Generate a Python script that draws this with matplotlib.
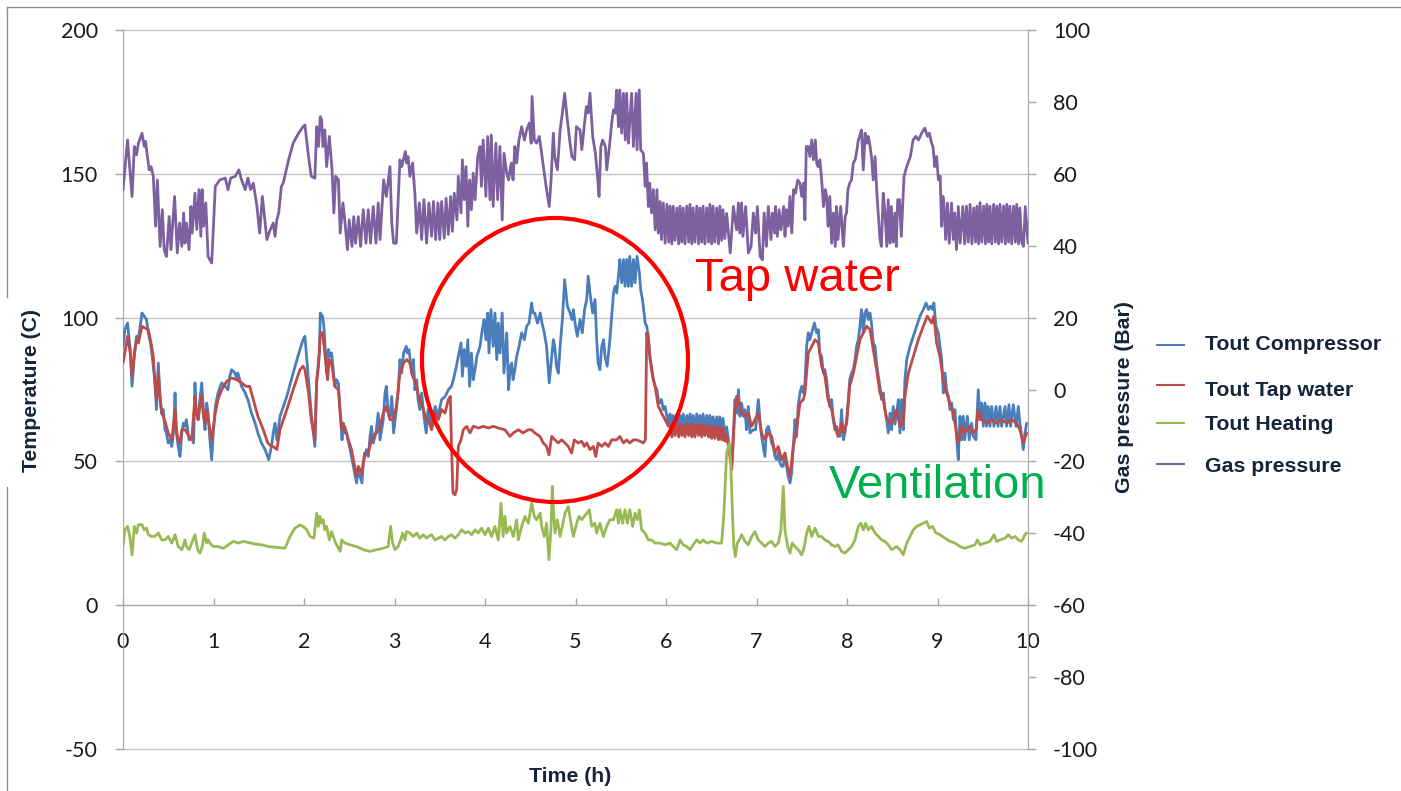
import numpy as np
import matplotlib
matplotlib.use('Agg')
import matplotlib.pyplot as plt
from matplotlib.lines import Line2D
from matplotlib.patches import Ellipse

plt.rcParams['axes.unicode_minus'] = False

# values: (time in h, value)
# left axis: outlet temperatures (C), right axis: gas pressure (bar)

compressor = [
    (0.00, 90.0), (0.02, 95.8), (0.05, 98.1), (0.08, 88.9), (0.10, 76.1), (0.125, 86.5), (0.15, 93.5),
    (0.17, 92.3), (0.21, 101.6), (0.235, 100.5), (0.26, 99.3), (0.28, 94.7), (0.31, 90.0), (0.335, 83.1),
    (0.35, 78.4), (0.37, 68.0), (0.39, 84.2), (0.41, 72.6), (0.427, 66.8), (0.445, 68.0), (0.464, 61.0),
    (0.48, 59.9), (0.50, 56.4), (0.52, 57.5), (0.54, 55.2), (0.56, 61.0), (0.575, 73.8), (0.59, 59.9),
    (0.61, 55.2), (0.63, 51.7), (0.65, 59.9), (0.667, 63.3), (0.685, 62.2), (0.70, 64.5), (0.73, 57.5),
    (0.76, 58.7), (0.78, 56.4), (0.795, 77.3), (0.81, 66.8), (0.83, 64.5), (0.85, 71.5), (0.87, 77.3),
    (0.89, 66.8), (0.906, 61.0), (0.925, 70.3), (0.94, 66.8), (0.96, 57.5), (0.98, 50.6), (1.00, 61.0),
    (1.02, 69.1), (1.035, 71.5), (1.05, 73.8), (1.09, 77.3), (1.13, 76.1), (1.16, 74.9), (1.18, 79.6),
    (1.20, 81.9), (1.24, 80.7), (1.255, 78.4), (1.27, 80.7), (1.31, 76.1), (1.35, 73.8), (1.38, 71.5),
    (1.42, 66.8), (1.46, 63.3), (1.49, 59.9), (1.53, 56.4), (1.57, 54.1), (1.61, 50.6), (1.64, 55.2),
    (1.66, 59.9), (1.68, 63.3), (1.70, 57.5), (1.735, 65.7), (1.81, 72.6), (1.88, 80.7), (1.955, 88.9),
    (1.99, 92.3), (2.01, 93.5), (2.05, 78.4), (2.08, 66.8), (2.12, 55.2), (2.14, 78.4), (2.17, 87.7),
    (2.18, 101.6), (2.205, 100.5), (2.22, 97.0), (2.25, 80.7), (2.27, 88.9), (2.29, 86.5), (2.305, 87.7),
    (2.32, 83.1), (2.34, 76.1), (2.36, 78.4), (2.38, 77.3), (2.40, 66.8), (2.42, 57.5), (2.435, 63.3),
    (2.45, 59.9), (2.47, 59.9), (2.51, 54.1), (2.525, 51.7), (2.545, 48.3), (2.56, 45.9), (2.58, 42.5),
    (2.60, 47.1), (2.62, 44.8), (2.64, 42.5), (2.655, 49.4), (2.69, 54.1), (2.71, 51.7), (2.73, 58.7),
    (2.745, 62.2), (2.765, 56.4), (2.795, 59.9), (2.82, 66.8), (2.84, 57.5), (2.876, 64.5), (2.895, 73.8),
    (2.91, 76.1), (2.93, 66.8), (2.95, 65.7), (2.97, 72.6), (2.99, 59.9), (3.016, 66.8), (3.04, 73.8),
    (3.06, 85.4), (3.08, 80.7), (3.10, 87.7), (3.13, 90.0), (3.14, 87.7), (3.16, 88.9), (3.19, 80.7),
    (3.21, 85.4), (3.225, 74.9), (3.245, 78.4), (3.26, 71.5), (3.28, 68.0), (3.30, 73.8), (3.325, 65.7),
    (3.35, 59.9), (3.37, 68.0), (3.41, 63.3), (3.45, 69.1), (3.48, 65.7), (3.52, 71.5), (3.56, 72.6),
    (3.595, 74.9), (3.63, 76.1), (3.65, 78.4), (3.676, 81.9), (3.705, 86.5), (3.735, 91.2), (3.75, 79.6),
    (3.77, 88.9), (3.79, 83.1), (3.81, 92.3), (3.83, 76.1), (3.85, 87.7), (3.87, 78.4), (3.89, 81.9),
    (3.91, 86.5), (3.945, 90.0), (3.97, 95.8), (3.99, 99.3), (4.01, 92.3), (4.03, 101.6), (4.044, 87.7),
    (4.066, 102.8), (4.09, 90.0), (4.11, 101.6), (4.13, 85.4), (4.147, 98.1), (4.165, 87.7), (4.19, 101.6),
    (4.21, 80.7), (4.24, 94.7), (4.26, 74.9), (4.28, 83.1), (4.295, 84.2), (4.31, 78.4), (4.33, 81.9),
    (4.35, 86.5), (4.376, 90.0), (4.405, 94.7), (4.435, 92.3), (4.46, 97.0), (4.486, 98.1), (4.515, 105.1),
    (4.53, 101.6), (4.55, 101.6), (4.58, 98.1), (4.61, 101.6), (4.63, 98.1), (4.655, 94.7), (4.68, 90.0),
    (4.71, 77.3), (4.73, 84.2), (4.755, 92.3), (4.77, 90.0), (4.79, 83.1), (4.81, 80.7), (4.83, 90.0),
    (4.855, 99.3), (4.88, 113.2), (4.91, 104.0), (4.94, 101.6), (4.96, 99.3), (4.976, 102.8), (5.00, 97.0),
    (5.02, 93.5), (5.05, 99.3), (5.075, 94.7), (5.10, 102.8), (5.124, 106.3), (5.14, 114.4), (5.16, 108.6),
    (5.19, 101.6), (5.216, 106.3), (5.234, 92.3), (5.25, 84.2), (5.27, 81.9), (5.29, 90.0), (5.31, 92.3),
    (5.326, 86.5), (5.35, 83.1), (5.38, 92.3), (5.42, 108.6), (5.437, 110.9), (5.455, 108.6), (5.474, 114.4),
    (5.49, 120.2), (5.51, 112.1), (5.53, 120.2), (5.547, 110.9), (5.566, 120.2), (5.584, 110.9), (5.60, 121.3),
    (5.62, 110.9), (5.64, 120.2), (5.658, 112.1), (5.68, 121.3), (5.706, 115.5), (5.72, 109.7), (5.74, 106.3),
    (5.77, 98.1), (5.787, 97.0), (5.805, 93.5), (5.823, 85.4), (5.84, 83.1), (5.86, 78.4), (5.88, 76.1),
    (5.90, 74.9), (5.915, 71.5), (5.934, 70.3), (5.95, 71.5), (5.97, 68.0), (5.99, 69.1), (6.01, 65.7),
    (6.026, 63.3), (6.045, 66.5), (6.065, 60.5), (6.08, 66.0), (6.10, 61.0), (6.12, 66.5), (6.14, 60.5),
    (6.155, 66.0), (6.175, 61.0), (6.19, 66.5), (6.21, 60.5), (6.23, 66.0), (6.25, 61.0), (6.265, 66.5),
    (6.285, 60.5), (6.30, 66.0), (6.32, 60.5), (6.34, 66.5), (6.36, 61.0), (6.375, 66.0), (6.395, 60.5),
    (6.41, 66.5), (6.43, 61.0), (6.45, 66.0), (6.47, 60.5), (6.485, 66.0), (6.505, 60.0), (6.52, 65.5),
    (6.54, 60.0), (6.56, 65.5), (6.58, 59.5), (6.595, 65.5), (6.615, 59.5), (6.63, 65.0), (6.65, 59.0),
    (6.67, 62.0), (6.70, 55.0), (6.726, 48.3), (6.744, 59.9), (6.762, 71.5), (6.785, 66.8), (6.80, 74.9),
    (6.817, 65.7), (6.836, 70.3), (6.854, 65.7), (6.872, 68.0), (6.89, 61.0), (6.91, 69.1), (6.928, 59.9),
    (6.965, 61.0), (6.99, 61.0), (7.02, 71.5), (7.038, 64.5), (7.056, 58.7), (7.075, 55.2), (7.093, 51.7),
    (7.11, 61.0), (7.13, 62.2), (7.149, 59.9), (7.167, 56.4), (7.186, 55.2), (7.204, 51.7), (7.22, 50.6),
    (7.24, 52.9), (7.26, 49.4), (7.278, 48.3), (7.296, 48.3), (7.314, 52.9), (7.333, 48.3), (7.35, 44.8),
    (7.37, 42.5), (7.388, 45.9), (7.406, 55.2), (7.425, 64.5), (7.443, 58.7), (7.46, 69.1), (7.48, 73.8),
    (7.50, 76.1), (7.517, 73.8), (7.535, 77.3), (7.554, 90.0), (7.572, 94.7), (7.59, 92.3), (7.61, 94.7),
    (7.64, 98.1), (7.664, 94.7), (7.683, 95.8), (7.70, 87.7), (7.72, 86.5), (7.738, 80.7), (7.756, 81.9),
    (7.775, 78.4), (7.79, 73.8), (7.81, 69.1), (7.83, 71.5), (7.848, 64.5), (7.867, 61.0), (7.885, 62.2),
    (7.90, 59.9), (7.922, 58.7), (7.94, 68.0), (7.96, 57.5), (7.977, 59.9), (7.996, 64.5), (8.014, 71.5),
    (8.03, 78.4), (8.05, 80.7), (8.07, 81.9), (8.088, 85.4), (8.106, 90.0), (8.125, 92.3), (8.143, 97.0),
    (8.16, 102.8), (8.18, 94.7), (8.198, 101.6), (8.217, 102.8), (8.235, 99.3), (8.254, 101.6), (8.27, 98.1),
    (8.29, 91.2), (8.31, 90.0), (8.327, 84.2), (8.346, 79.6), (8.364, 76.1), (8.382, 71.5), (8.40, 73.8),
    (8.42, 68.0), (8.438, 64.5), (8.456, 59.9), (8.475, 66.8), (8.493, 61.0), (8.51, 69.1), (8.53, 63.0),
    (8.55, 66.8), (8.567, 71.5), (8.585, 59.9), (8.604, 71.5), (8.622, 61.0), (8.64, 78.4), (8.66, 85.4),
    (8.696, 90.0), (8.733, 93.5), (8.77, 97.0), (8.806, 100.5), (8.843, 102.8), (8.873, 105.1), (8.90, 102.8),
    (8.924, 104.0), (8.946, 102.8), (8.96, 105.1), (8.983, 97.0), (9.009, 94.7), (9.027, 90.0), (9.046, 85.4),
    (9.064, 73.8), (9.083, 80.7), (9.10, 74.9), (9.12, 72.6), (9.138, 68.0), (9.156, 70.3), (9.175, 64.5),
    (9.193, 68.0), (9.21, 58.7), (9.23, 50.6), (9.248, 65.7), (9.267, 57.5), (9.285, 65.7), (9.30, 57.5),
    (9.33, 65.7), (9.35, 57.5), (9.377, 63.3), (9.396, 58.7), (9.425, 57.5), (9.45, 74.9), (9.47, 64.5),
    (9.488, 70.3), (9.506, 62.2), (9.525, 70.3), (9.543, 62.2), (9.56, 69.1), (9.58, 62.2), (9.598, 69.1),
    (9.624, 62.2), (9.646, 69.1), (9.67, 62.2), (9.69, 69.1), (9.709, 62.2), (9.746, 69.1), (9.764, 62.2),
    (9.79, 69.7), (9.808, 62.2), (9.838, 69.7), (9.867, 62.2), (9.893, 69.1), (9.91, 63.3), (9.93, 58.7),
    (9.948, 54.1), (9.967, 59.9), (9.985, 63.3),
]

tap_water = [
    (0.00, 84.2), (0.02, 87.7), (0.05, 93.5), (0.08, 87.7), (0.10, 79.6), (0.125, 87.7), (0.15, 92.3),
    (0.17, 91.2), (0.21, 97.0), (0.24, 96.4), (0.28, 95.8), (0.31, 91.2), (0.335, 86.5), (0.35, 78.4),
    (0.37, 71.5), (0.39, 80.7), (0.41, 71.5), (0.427, 66.8), (0.445, 65.7), (0.48, 62.2), (0.50, 59.9),
    (0.52, 58.7), (0.54, 57.5), (0.575, 68.0), (0.59, 61.0), (0.61, 57.5), (0.63, 56.4), (0.65, 61.0),
    (0.685, 61.0), (0.73, 58.7), (0.76, 57.5), (0.795, 72.6), (0.81, 66.8), (0.83, 64.5), (0.85, 69.1),
    (0.87, 72.6), (0.89, 65.7), (0.906, 63.3), (0.925, 68.0), (0.96, 61.0), (0.98, 57.5), (1.02, 66.8),
    (1.05, 71.5), (1.09, 74.9), (1.145, 77.8), (1.20, 79.0), (1.255, 78.4), (1.31, 77.3), (1.36, 76.1),
    (1.40, 76.1), (1.44, 71.5), (1.49, 65.7), (1.55, 61.0), (1.60, 56.4), (1.64, 55.2), (1.66, 55.2),
    (1.70, 54.1), (1.735, 61.0), (1.81, 68.0), (1.88, 74.9), (1.955, 81.9), (1.99, 83.1), (2.01, 81.9),
    (2.05, 73.8), (2.08, 64.5), (2.12, 57.5), (2.14, 77.3), (2.16, 83.1), (2.18, 94.7), (2.205, 94.7),
    (2.23, 87.7), (2.26, 78.4), (2.28, 85.4), (2.305, 84.2), (2.34, 76.1), (2.38, 74.9), (2.40, 66.8),
    (2.42, 61.0), (2.45, 62.2), (2.49, 57.5), (2.525, 54.1), (2.56, 48.3), (2.58, 44.8), (2.60, 48.3),
    (2.64, 45.9), (2.67, 52.9), (2.71, 52.9), (2.745, 57.5), (2.795, 59.9), (2.83, 61.0), (2.876, 66.8),
    (2.91, 69.1), (2.95, 64.5), (2.99, 64.5), (3.02, 69.1), (3.06, 80.7), (3.10, 84.2), (3.134, 85.4),
    (3.17, 84.2), (3.20, 79.6), (3.237, 77.3), (3.274, 71.5), (3.31, 69.1), (3.35, 64.5), (3.374, 64.5),
    (3.41, 61.0), (3.447, 66.8), (3.484, 64.5), (3.52, 68.0), (3.558, 66.8), (3.595, 71.5), (3.617, 72.6),
    (3.63, 55.2), (3.646, 39.0), (3.668, 38.4), (3.687, 40.2), (3.705, 55.2), (3.735, 57.5), (3.76, 61.0),
    (3.797, 62.2), (3.834, 59.9), (3.87, 62.2), (3.93, 61.6), (3.981, 62.2), (4.037, 61.6), (4.092, 62.2),
    (4.147, 61.6), (4.22, 61.0), (4.276, 58.7), (4.313, 59.9), (4.368, 61.0), (4.42, 59.9), (4.479, 61.0),
    (4.515, 61.0), (4.55, 59.9), (4.607, 58.7), (4.644, 56.4), (4.68, 55.2), (4.707, 52.3), (4.737, 58.7),
    (4.773, 57.5), (4.81, 56.4), (4.847, 57.5), (4.884, 56.4), (4.92, 55.2), (4.957, 52.9), (4.987, 57.5),
    (5.03, 56.4), (5.068, 57.0), (5.098, 55.2), (5.124, 56.4), (5.16, 54.1), (5.197, 55.2), (5.223, 51.7),
    (5.25, 56.4), (5.29, 55.2), (5.326, 56.4), (5.363, 55.2), (5.40, 57.5), (5.455, 57.5), (5.49, 58.7),
    (5.53, 56.4), (5.566, 57.5), (5.60, 56.4), (5.64, 57.5), (5.676, 57.5), (5.713, 57.0), (5.75, 56.4),
    (5.772, 57.5), (5.787, 94.7), (5.805, 92.3), (5.823, 86.5), (5.84, 81.9), (5.86, 78.4), (5.88, 76.1),
    (5.897, 72.6), (5.915, 69.1), (5.934, 68.0), (5.95, 66.8), (5.97, 65.7), (6.01, 63.3), (6.026, 62.2),
    (6.045, 62.5), (6.065, 58.5), (6.08, 63.0), (6.10, 59.0), (6.12, 62.5), (6.14, 58.5), (6.155, 63.0),
    (6.175, 59.0), (6.19, 62.5), (6.21, 58.5), (6.23, 63.0), (6.25, 59.0), (6.265, 62.5), (6.285, 58.5),
    (6.30, 63.0), (6.32, 58.5), (6.34, 62.5), (6.36, 59.0), (6.375, 63.0), (6.395, 58.5), (6.41, 62.5),
    (6.43, 59.0), (6.45, 62.5), (6.47, 58.5), (6.485, 62.5), (6.505, 58.0), (6.52, 62.0), (6.54, 58.0),
    (6.56, 62.0), (6.58, 57.5), (6.595, 62.0), (6.615, 57.5), (6.63, 61.5), (6.65, 57.0), (6.67, 59.0),
    (6.70, 53.0), (6.726, 47.1), (6.744, 57.5), (6.76, 67.0), (6.78, 72.6), (6.80, 71.5), (6.836, 66.8),
    (6.872, 65.7), (6.91, 66.8), (6.946, 62.2), (6.983, 64.5), (7.02, 66.8), (7.056, 59.9), (7.093, 57.5),
    (7.13, 59.9), (7.167, 58.7), (7.204, 52.9), (7.24, 55.2), (7.278, 50.6), (7.314, 52.9), (7.35, 47.1),
    (7.37, 44.8), (7.406, 55.2), (7.443, 61.0), (7.48, 70.3), (7.517, 71.5), (7.535, 73.8), (7.572, 87.7),
    (7.61, 90.0), (7.646, 92.3), (7.683, 91.2), (7.72, 83.1), (7.756, 79.6), (7.79, 71.5), (7.83, 68.0),
    (7.867, 62.2), (7.90, 58.7), (7.94, 63.3), (7.96, 59.9), (7.996, 63.3), (8.03, 76.1), (8.07, 80.7),
    (8.106, 86.5), (8.143, 92.3), (8.18, 94.7), (8.217, 97.0), (8.254, 95.8), (8.29, 88.9), (8.327, 81.9),
    (8.364, 73.8), (8.40, 71.5), (8.438, 64.5), (8.475, 63.3), (8.51, 64.5), (8.55, 68.0), (8.585, 62.2),
    (8.622, 63.3), (8.64, 72.6), (8.678, 80.7), (8.733, 86.5), (8.788, 92.3), (8.843, 97.0), (8.887, 100.5),
    (8.935, 98.1), (8.96, 100.5), (8.99, 91.2), (9.027, 86.5), (9.064, 78.4), (9.10, 73.8), (9.138, 70.3),
    (9.175, 66.8), (9.21, 59.9), (9.23, 56.4), (9.267, 62.2), (9.30, 59.9), (9.35, 62.2), (9.396, 59.9),
    (9.425, 61.0), (9.45, 68.0), (9.488, 64.5), (9.543, 63.3), (9.598, 64.5), (9.653, 63.3), (9.709, 64.5),
    (9.764, 63.3), (9.82, 64.5), (9.874, 63.3), (9.91, 61.0), (9.948, 56.4), (9.985, 59.9),
]

heating = [
    (0.00, 20.4), (0.02, 26.2), (0.05, 27.4), (0.075, 23.9), (0.10, 17.5), (0.125, 27.4), (0.15, 25.1),
    (0.17, 28.0), (0.21, 28.0), (0.235, 26.2), (0.26, 26.8), (0.28, 24.5), (0.315, 23.9), (0.35, 23.9),
    (0.39, 25.1), (0.427, 22.7), (0.464, 22.7), (0.50, 23.9), (0.54, 21.6), (0.575, 24.5), (0.61, 20.4),
    (0.65, 19.3), (0.685, 22.7), (0.70, 20.4), (0.73, 19.3), (0.76, 21.6), (0.795, 24.5), (0.825, 19.3),
    (0.85, 18.1), (0.876, 20.4), (0.898, 25.1), (0.924, 21.6), (0.94, 22.7), (0.96, 21.6), (0.998, 20.4),
    (1.05, 20.4), (1.108, 19.8), (1.164, 21.0), (1.22, 22.2), (1.275, 21.6), (1.33, 22.2), (1.384, 21.8),
    (1.458, 21.3), (1.53, 21.0), (1.606, 20.4), (1.672, 20.2), (1.79, 19.8), (1.845, 23.9), (1.90, 26.8),
    (1.955, 27.9), (1.99, 27.4), (2.03, 26.2), (2.066, 23.9), (2.11, 23.3), (2.14, 32.0), (2.158, 27.4),
    (2.176, 30.9), (2.195, 28.5), (2.213, 29.7), (2.23, 26.2), (2.25, 27.4), (2.28, 22.7), (2.305, 25.6),
    (2.342, 22.2), (2.36, 21.0), (2.40, 18.7), (2.416, 22.7), (2.453, 21.6), (2.508, 21.0), (2.58, 20.4),
    (2.655, 19.3), (2.73, 18.7), (2.80, 19.3), (2.876, 19.8), (2.93, 20.4), (2.957, 27.4), (2.98, 21.6),
    (3.005, 19.3), (3.04, 20.4), (3.068, 22.7), (3.09, 25.1), (3.116, 22.7), (3.134, 25.6), (3.17, 25.1),
    (3.208, 23.9), (3.245, 25.1), (3.28, 23.3), (3.318, 24.5), (3.355, 23.3), (3.374, 23.9), (3.41, 24.5),
    (3.447, 22.7), (3.484, 23.3), (3.52, 23.9), (3.558, 22.7), (3.595, 23.9), (3.63, 24.5), (3.668, 23.3),
    (3.705, 24.5), (3.742, 26.2), (3.78, 25.1), (3.816, 25.6), (3.853, 24.5), (3.89, 26.2), (3.926, 25.1),
    (3.963, 26.8), (4.00, 24.5), (4.037, 26.8), (4.074, 23.9), (4.11, 27.4), (4.147, 22.7), (4.177, 35.5),
    (4.20, 23.9), (4.22, 30.9), (4.24, 25.1), (4.276, 27.4), (4.313, 23.9), (4.35, 29.7), (4.368, 22.7),
    (4.405, 27.4), (4.442, 30.9), (4.479, 28.5), (4.515, 35.5), (4.545, 30.9), (4.57, 29.7), (4.608, 32.0),
    (4.626, 27.4), (4.655, 23.9), (4.68, 28.5), (4.707, 15.8), (4.73, 27.4), (4.744, 41.3), (4.759, 32.0),
    (4.773, 25.1), (4.80, 29.7), (4.83, 23.9), (4.854, 27.4), (4.884, 32.0), (4.92, 34.3), (4.95, 28.5),
    (4.976, 23.9), (5.013, 28.5), (5.038, 30.9), (5.068, 29.7), (5.097, 30.9), (5.124, 32.0), (5.153, 33.2),
    (5.18, 27.4), (5.216, 28.5), (5.234, 25.1), (5.27, 28.5), (5.308, 23.9), (5.345, 27.4), (5.38, 29.7),
    (5.418, 29.7), (5.455, 33.2), (5.474, 28.5), (5.49, 33.2), (5.52, 28.5), (5.547, 33.2), (5.573, 28.5),
    (5.60, 33.2), (5.632, 27.4), (5.658, 32.0), (5.683, 29.7), (5.706, 33.2), (5.73, 26.2), (5.768, 25.1),
    (5.805, 22.7), (5.84, 22.7), (5.88, 21.6), (5.934, 21.6), (5.99, 21.0), (6.044, 21.6), (6.08, 20.4),
    (6.118, 19.3), (6.155, 22.7), (6.19, 21.0), (6.228, 20.4), (6.265, 19.3), (6.30, 21.0), (6.34, 22.7),
    (6.376, 21.6), (6.413, 22.7), (6.45, 21.6), (6.505, 22.2), (6.56, 21.6), (6.615, 21.6), (6.64, 32.0),
    (6.67, 52.9), (6.70, 56.4), (6.715, 49.4), (6.737, 29.7), (6.75, 20.4), (6.766, 16.9), (6.788, 21.6),
    (6.81, 22.7), (6.836, 24.5), (6.872, 22.2), (6.91, 21.0), (6.946, 23.9), (6.983, 25.6), (7.02, 22.7),
    (7.056, 21.6), (7.093, 20.4), (7.13, 21.6), (7.167, 22.2), (7.204, 20.4), (7.24, 21.6), (7.27, 26.2),
    (7.296, 41.3), (7.314, 26.2), (7.344, 20.4), (7.37, 18.1), (7.395, 21.6), (7.425, 20.4), (7.46, 19.3),
    (7.50, 17.5), (7.528, 20.4), (7.554, 25.1), (7.58, 27.4), (7.61, 23.9), (7.646, 26.8), (7.683, 23.9),
    (7.72, 23.9), (7.756, 22.7), (7.79, 22.2), (7.83, 21.0), (7.867, 20.4), (7.90, 21.0), (7.94, 18.7),
    (7.977, 18.1), (8.014, 19.3), (8.05, 20.4), (8.088, 22.7), (8.125, 27.4), (8.154, 28.5), (8.18, 26.2),
    (8.206, 28.5), (8.235, 26.2), (8.27, 27.4), (8.31, 25.1), (8.346, 23.9), (8.382, 22.7), (8.42, 22.2),
    (8.456, 21.0), (8.493, 19.3), (8.55, 20.4), (8.585, 19.3), (8.622, 17.5), (8.66, 21.6), (8.696, 23.9),
    (8.733, 26.2), (8.77, 27.4), (8.806, 27.9), (8.843, 28.5), (8.88, 29.1), (8.91, 26.8), (8.946, 27.4),
    (8.983, 25.1), (9.027, 24.5), (9.083, 23.3), (9.138, 22.2), (9.193, 21.6), (9.248, 20.4), (9.30, 19.8),
    (9.359, 20.4), (9.414, 21.0), (9.44, 22.7), (9.47, 21.0), (9.525, 21.6), (9.58, 22.2), (9.624, 24.5),
    (9.653, 22.2), (9.69, 22.7), (9.746, 23.3), (9.782, 24.5), (9.82, 23.3), (9.856, 23.9), (9.893, 22.7),
    (9.93, 22.2), (9.967, 24.5), (9.985, 25.1),
]

gas_pressure = [
    (0.00, 55.5), (0.05, 69.4), (0.10, 53.7), (0.125, 67.6), (0.15, 65.3), (0.17, 68.5), (0.21, 71.3),
    (0.235, 67.6), (0.25, 69.0), (0.265, 65.7), (0.29, 61.1), (0.31, 62.0), (0.335, 59.3), (0.36, 45.4),
    (0.38, 58.3), (0.41, 39.8), (0.435, 50.0), (0.455, 38.9), (0.48, 37.0), (0.51, 48.1), (0.53, 38.9),
    (0.57, 53.7), (0.60, 38.0), (0.625, 46.3), (0.65, 39.8), (0.67, 49.1), (0.685, 40.7), (0.70, 46.3),
    (0.73, 38.9), (0.75, 50.9), (0.765, 43.5), (0.795, 54.6), (0.815, 44.5), (0.84, 55.6), (0.86, 42.6),
    (0.875, 55.6), (0.89, 45.4), (0.915, 51.9), (0.94, 37.0), (0.98, 35.2), (1.02, 56.5), (1.07, 58.3),
    (1.13, 58.8), (1.16, 55.6), (1.19, 58.8), (1.24, 59.3), (1.28, 61.1), (1.31, 58.3), (1.35, 55.6),
    (1.38, 58.8), (1.41, 55.6), (1.44, 57.4), (1.48, 50.9), (1.51, 43.5), (1.54, 53.7), (1.59, 41.7),
    (1.62, 44.0), (1.66, 46.3), (1.68, 42.6), (1.70, 47.2), (1.72, 49.1), (1.75, 56.5), (1.77, 57.4),
    (1.83, 63.9), (1.88, 68.5), (1.94, 71.3), (1.99, 73.1), (2.01, 73.6), (2.05, 64.8), (2.08, 59.3),
    (2.12, 58.8), (2.14, 73.1), (2.16, 67.6), (2.18, 75.9), (2.195, 75.0), (2.21, 67.6), (2.23, 72.2),
    (2.25, 62.0), (2.28, 70.4), (2.31, 61.1), (2.33, 49.1), (2.35, 59.3), (2.38, 58.3), (2.40, 43.5),
    (2.43, 51.9), (2.45, 47.2), (2.48, 38.9), (2.50, 47.2), (2.53, 39.8), (2.55, 48.1), (2.57, 40.7),
    (2.60, 48.1), (2.625, 39.8), (2.655, 50.0), (2.685, 40.7), (2.71, 50.0), (2.735, 40.7), (2.765, 50.9),
    (2.795, 40.7), (2.82, 51.9), (2.84, 41.7), (2.88, 58.3), (2.91, 53.7), (2.95, 62.0), (2.97, 46.3),
    (2.99, 40.7), (3.02, 40.7), (3.06, 63.9), (3.08, 62.0), (3.12, 66.2), (3.135, 63.0), (3.15, 64.8),
    (3.17, 59.3), (3.20, 63.0), (3.225, 54.6), (3.245, 43.5), (3.275, 51.9), (3.30, 41.7), (3.325, 52.8),
    (3.355, 40.7), (3.38, 51.9), (3.41, 42.6), (3.43, 52.3), (3.455, 41.7), (3.48, 51.9), (3.50, 41.7),
    (3.52, 52.3), (3.55, 42.1), (3.57, 53.2), (3.595, 43.1), (3.62, 53.7), (3.64, 44.0), (3.66, 54.6),
    (3.69, 47.2), (3.705, 59.3), (3.735, 49.1), (3.75, 63.9), (3.77, 52.8), (3.79, 62.0), (3.81, 45.4),
    (3.83, 58.3), (3.85, 50.0), (3.87, 60.2), (3.89, 52.8), (3.92, 64.8), (3.945, 67.6), (3.96, 56.5),
    (3.98, 69.4), (4.01, 53.7), (4.03, 70.4), (4.055, 52.8), (4.07, 70.8), (4.09, 50.9), (4.12, 68.5),
    (4.14, 52.8), (4.165, 67.6), (4.19, 47.2), (4.21, 65.7), (4.24, 60.2), (4.26, 58.3), (4.29, 63.0),
    (4.31, 58.3), (4.33, 67.6), (4.35, 63.0), (4.375, 69.4), (4.405, 73.1), (4.435, 69.4), (4.46, 72.2),
    (4.49, 74.1), (4.51, 68.5), (4.52, 81.5), (4.545, 69.4), (4.57, 68.5), (4.60, 70.4), (4.625, 65.7),
    (4.655, 60.2), (4.68, 55.6), (4.71, 50.9), (4.73, 58.3), (4.755, 71.3), (4.77, 64.8), (4.80, 61.1),
    (4.83, 72.2), (4.855, 76.9), (4.88, 82.4), (4.91, 75.0), (4.94, 68.5), (4.96, 64.8), (4.99, 63.9),
    (5.01, 73.1), (5.05, 72.2), (5.07, 66.7), (5.10, 74.1), (5.12, 78.7), (5.14, 76.9), (5.16, 82.4),
    (5.19, 70.4), (5.22, 65.7), (5.24, 60.2), (5.26, 53.7), (5.28, 67.6), (5.30, 69.4), (5.33, 67.6),
    (5.345, 61.1), (5.375, 67.6), (5.40, 74.1), (5.42, 77.8), (5.44, 76.9), (5.455, 83.3), (5.475, 73.1),
    (5.49, 83.3), (5.51, 71.3), (5.53, 82.4), (5.55, 69.4), (5.565, 82.4), (5.585, 68.5), (5.62, 82.4),
    (5.64, 67.6), (5.67, 82.4), (5.68, 66.7), (5.705, 83.3), (5.72, 66.7), (5.75, 65.7), (5.77, 56.5),
    (5.785, 63.0), (5.805, 50.9), (5.82, 57.4), (5.84, 49.1), (5.86, 55.6), (5.88, 44.4), (5.90, 55.6),
    (5.915, 43.5), (5.935, 52.3), (5.95, 41.7), (5.97, 51.9), (5.99, 40.7), (6.01, 51.5), (6.03, 41.0),
    (6.045, 51.0), (6.065, 40.5), (6.08, 51.0), (6.10, 41.5), (6.12, 50.5), (6.14, 40.5), (6.155, 51.0),
    (6.175, 41.0), (6.19, 50.5), (6.21, 40.5), (6.23, 51.0), (6.25, 41.0), (6.265, 51.5), (6.285, 40.5),
    (6.30, 50.5), (6.32, 41.0), (6.34, 51.0), (6.36, 40.5), (6.375, 50.5), (6.395, 41.0), (6.41, 51.0),
    (6.43, 40.5), (6.45, 50.5), (6.47, 41.0), (6.485, 51.5), (6.505, 40.5), (6.52, 51.0), (6.54, 41.0),
    (6.56, 50.5), (6.58, 40.5), (6.595, 51.0), (6.615, 41.5), (6.63, 50.0), (6.65, 42.0), (6.67, 49.0),
    (6.71, 38.0), (6.745, 50.9), (6.78, 44.4), (6.80, 51.9), (6.815, 43.5), (6.835, 51.9), (6.85, 42.6),
    (6.88, 50.9), (6.91, 38.0), (6.94, 39.8), (6.965, 49.1), (6.99, 43.5), (7.01, 50.9), (7.04, 37.0),
    (7.065, 36.1), (7.085, 49.1), (7.11, 39.8), (7.13, 50.9), (7.16, 41.7), (7.175, 49.1), (7.20, 43.5),
    (7.21, 50.9), (7.23, 42.6), (7.25, 50.0), (7.27, 44.4), (7.30, 50.9), (7.315, 42.6), (7.33, 50.0),
    (7.35, 45.4), (7.37, 53.7), (7.39, 43.5), (7.41, 55.6), (7.43, 54.6), (7.455, 58.3), (7.48, 57.4),
    (7.50, 53.7), (7.52, 57.4), (7.535, 47.2), (7.55, 67.6), (7.57, 67.6), (7.59, 64.8), (7.61, 69.4),
    (7.63, 63.9), (7.65, 69.4), (7.665, 63.0), (7.68, 62.0), (7.70, 63.9), (7.72, 58.3), (7.74, 50.9),
    (7.76, 55.6), (7.775, 53.7), (7.79, 45.4), (7.81, 53.7), (7.83, 40.7), (7.85, 49.1), (7.87, 39.8),
    (7.885, 50.9), (7.90, 41.7), (7.93, 50.9), (7.96, 39.8), (7.98, 48.1), (7.995, 49.1), (8.01, 55.6),
    (8.03, 57.4), (8.05, 58.3), (8.07, 63.0), (8.09, 63.9), (8.11, 66.7), (8.125, 69.4), (8.14, 70.4),
    (8.16, 72.2), (8.18, 61.1), (8.20, 71.3), (8.22, 68.5), (8.235, 70.4), (8.25, 68.5), (8.27, 64.8),
    (8.29, 58.3), (8.31, 64.8), (8.33, 54.6), (8.345, 49.1), (8.365, 41.7), (8.38, 39.8), (8.40, 54.6),
    (8.42, 49.1), (8.44, 39.8), (8.455, 52.8), (8.475, 40.7), (8.49, 50.9), (8.51, 41.0), (8.53, 49.1),
    (8.545, 39.8), (8.56, 52.8), (8.58, 52.8), (8.60, 42.6), (8.63, 59.3), (8.66, 62.0), (8.70, 64.8),
    (8.73, 69.4), (8.76, 70.4), (8.79, 69.4), (8.825, 71.3), (8.86, 72.7), (8.89, 70.4), (8.91, 71.3),
    (8.935, 68.5), (8.95, 67.6), (8.97, 62.0), (8.99, 64.8), (9.01, 58.3), (9.03, 59.3), (9.045, 45.4),
    (9.06, 53.7), (9.07, 51.9), (9.09, 41.7), (9.11, 51.9), (9.13, 40.7), (9.155, 51.9), (9.175, 41.7),
    (9.19, 49.1), (9.21, 38.9), (9.23, 50.9), (9.25, 40.7), (9.28, 50.9), (9.30, 40.5), (9.32, 51.0),
    (9.34, 41.0), (9.36, 51.5), (9.38, 40.5), (9.40, 50.5), (9.42, 41.0), (9.435, 51.0), (9.455, 40.5),
    (9.47, 52.0), (9.49, 41.0), (9.51, 51.0), (9.53, 40.5), (9.545, 51.5), (9.565, 41.0), (9.58, 51.0),
    (9.60, 40.5), (9.62, 51.5), (9.64, 41.0), (9.655, 51.0), (9.675, 40.5), (9.69, 51.5), (9.71, 41.0),
    (9.73, 51.0), (9.75, 40.5), (9.765, 51.5), (9.785, 41.0), (9.80, 51.0), (9.82, 40.5), (9.84, 51.0),
    (9.86, 41.0), (9.875, 51.5), (9.895, 40.5), (9.91, 50.5), (9.93, 41.0), (9.95, 39.8), (9.97, 50.9),
    (10.0, 40.7),
]

series_names = ['Tout Compressor', 'Tout Tap water', 'Tout Heating', 'Gas pressure']
series_colors = ['#4A7EBB', '#BE4B48', '#98B954', '#7D60A0']

temp_ticks = [-50, 0, 50, 100, 150, 200]
pressure_ticks = [-100, -80, -60, -40, -20, 0, 20, 40, 60, 80, 100]
time_ticks = list(range(0, 11))

W, H = 1401, 791
grey = '#A6A6A6'
navy = '#15243A'
tick_font = dict(family='Lato', size=15.5, color='#1A1A1A')


def fx(px):
    return px / W


def fy(py):
    return 1 - py / H


fig = plt.figure(figsize=(W / 100, H / 100), dpi=100)
ax = fig.add_axes([fx(123), fy(749), fx(1028) - fx(123), fy(30) - fy(749)])
ax2 = ax.twinx()

# temperatures on the primary axis
for data, col in zip([compressor, tap_water, heating], series_colors[:3]):
    t, v = np.array(data).T
    ax.plot(t, v, color=col, lw=2.0, solid_joinstyle='round', solid_capstyle='round', zorder=3)

# gas pressure on the secondary axis
t, p = np.array(gas_pressure).T
ax2.plot(t, p, color=series_colors[3], lw=2.0, solid_joinstyle='round', solid_capstyle='round', zorder=3)

ax.set_xlim(0, 10)
ax.set_ylim(-50, 200)
ax2.set_ylim(-100, 100)
ax.set_xticks(time_ticks)
ax.set_yticks(temp_ticks)
ax2.set_yticks(pressure_ticks)
ax.set_axisbelow(True)
# horizontal gridlines, including the ones on the top and bottom edges
for v in temp_ticks:
    ax.axhline(v, color='#C6C6C6', lw=1, clip_on=False, zorder=0.5)

for s in ['top', 'right']:
    ax.spines[s].set_visible(False)
for s in ['top', 'left', 'bottom']:
    ax2.spines[s].set_visible(False)
ax.spines['bottom'].set_position(('data', 0))
ax.spines['bottom'].set_color(grey)
ax.spines['left'].set_color(grey)
ax2.spines['right'].set_color(grey)

ax.tick_params(axis='y', direction='out', length=6, width=1, color=grey, pad=12)
ax.tick_params(axis='x', direction='in', length=5, width=1, color=grey, pad=19)
ax2.tick_params(axis='y', direction='out', length=6, width=1, color=grey, pad=12)
for lab in ax.get_xticklabels() + ax.get_yticklabels() + ax2.get_yticklabels():
    lab.set_fontfamily(tick_font['family'])
    lab.set_fontsize(tick_font['size'])
    lab.set_color(tick_font['color'])

# axis titles
title_font = dict(family='Liberation Sans', weight='bold', size=15.3, color=navy)
fig.text(fx(32), fy(390), 'Temperature (C)', rotation=90, ha='center', va='center', **title_font)
fig.text(fx(1125), fy(397), 'Gas pressure (Bar)', rotation=90, ha='center', va='center', **title_font)
fig.text(fx(570), fy(776), 'Time (h)', ha='center', va='center', **title_font)

# legend
legend_y = [345, 385, 423, 464]
label_y = [345, 390, 425, 466]
for name, col, ly, ty in zip(series_names, series_colors, legend_y, label_y):
    fig.add_artist(Line2D([fx(1157), fx(1184)], [fy(ly), fy(ly)], color=col, lw=1.5))
    fig.text(fx(1205), fy(ty), name, ha='left', va='center', **title_font)

# annotations
fig.add_artist(Ellipse((fx(555), fy(360)), fx(266), 284 / H, transform=fig.transFigure,
                       fill=False, edgecolor='#FF0000', lw=3))
fig.text(fx(695), fy(279), 'Tap water', color='#FF0000', family='Liberation Sans', size=34,
         ha='left', va='center')
fig.text(fx(829), fy(486), 'Ventilation', color='#00B050', family='Liberation Sans', size=34,
         ha='left', va='center')

# outer frame of the slide graphic
frame = '#8C8C8C'
fig.add_artist(Line2D([fx(7), 1], [fy(7), fy(7)], color=frame, lw=1))
fig.add_artist(Line2D([fx(7), fx(7)], [fy(7), fy(297)], color=frame, lw=1))
fig.add_artist(Line2D([fx(7), fx(7)], [fy(487), 0], color=frame, lw=1))

fig.savefig('out.png', dpi=100)
